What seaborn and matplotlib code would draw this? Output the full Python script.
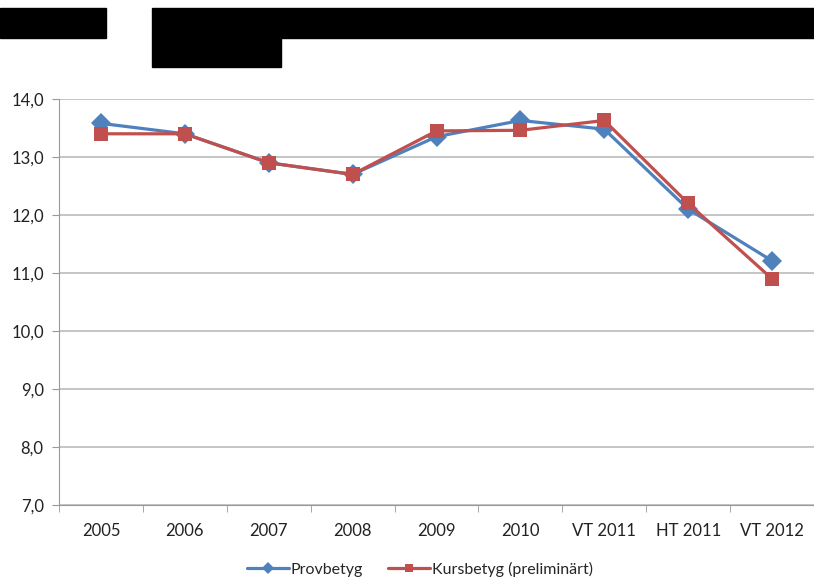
import pandas as pd
import matplotlib.pyplot as plt
import matplotlib.ticker as ticker
from matplotlib.patches import Rectangle
import seaborn as sns

periods = ['2005', '2006', '2007', '2008', '2009', '2010', 'VT 2011', 'HT 2011', 'VT 2012']
provbetyg = [13.58, 13.40, 12.90, 12.70, 13.35, 13.63, 13.48, 12.10, 11.21]
kursbetyg = [13.40, 13.40, 12.90, 12.70, 13.45, 13.46, 13.63, 12.20, 10.90]
series_names = ['Provbetyg', 'Kursbetyg (preliminärt)']
y_ticks = [7, 8, 9, 10, 11, 12, 13, 14]

df = pd.DataFrame({
    'pos': list(range(len(periods))) * 2,
    'value': provbetyg + kursbetyg,
    'serie': [series_names[0]] * len(periods) + [series_names[1]] * len(periods),
})

sns.set_style('white')
plt.rcParams['font.family'] = ['Lato', 'DejaVu Sans']

fig = plt.figure(figsize=(8.14, 5.79), dpi=100)
ax = fig.add_axes([59 / 814, 1 - 505 / 579, 1 - 59 / 814, (505 - 99) / 579])

palette = {series_names[0]: '#4F81BD', series_names[1]: '#C0504D'}
markers = {series_names[0]: 'D', series_names[1]: 's'}
sns.lineplot(data=df, x='pos', y='value', hue='serie', style='serie',
             palette=palette, markers=markers, dashes=False,
             linewidth=2.3, markersize=10.5, markeredgewidth=0, ax=ax)

ax.set_xlim(-0.5, len(periods) - 0.5)
ax.set_ylim(7, 14)
ax.set_yticks(y_ticks)
ax.yaxis.set_major_formatter(ticker.FuncFormatter(lambda v, p: f'{v:.1f}'.replace('.', ',')))
ax.set_xticks(range(len(periods)))
ax.set_xticklabels(periods)
ax.xaxis.set_minor_locator(ticker.FixedLocator([i - 0.5 for i in range(len(periods) + 1)]))
ax.tick_params(axis='x', which='major', length=0, pad=13, labelsize=12, colors='#222222')
ax.tick_params(axis='x', which='minor', length=5, color='#999999', bottom=True)
ax.tick_params(axis='y', length=5, color='#999999', left=True, labelsize=12, colors='#222222', pad=6)
ax.grid(axis='y', color='#BBBBBB', linewidth=1.2)
ax.set_axisbelow(True)
ax.set_xlabel('')
ax.set_ylabel('')
for side in ['top', 'right']:
    ax.spines[side].set_visible(False)
for side in ['left', 'bottom']:
    ax.spines[side].set_color('#999999')

handles, labels = ax.get_legend_handles_labels()
for h in handles:
    h.set_markersize(6)
ax.legend(handles, labels, loc='center', bbox_to_anchor=(420 / 814, 1 - 569 / 579),
          bbox_transform=fig.transFigure, ncol=2, frameon=False, fontsize=11.5,
          handlelength=2.6, handletextpad=0.1, columnspacing=1.6)

# blacked-out title blocks
for x0, y0, w, h in [(0, 8, 106, 30), (152, 8, 662, 30), (152, 38, 129, 29)]:
    fig.patches.append(Rectangle((x0 / 814, 1 - (y0 + h) / 579), w / 814, h / 579,
                                 transform=fig.transFigure, color='black', zorder=5))

fig.savefig('out.png', dpi=100)
